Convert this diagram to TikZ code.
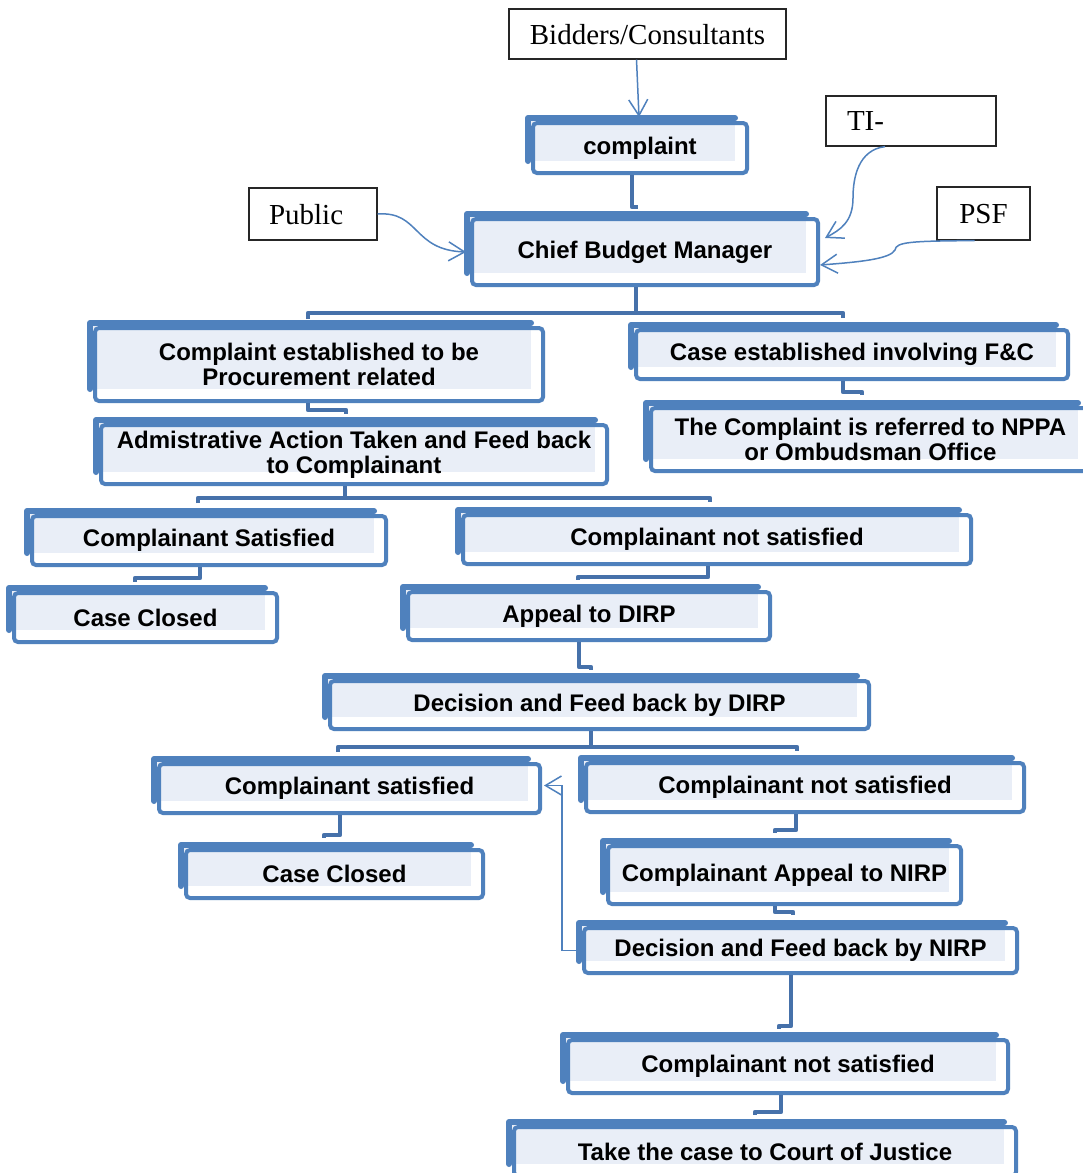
\documentclass[tikz,border=0pt]{standalone}
\usepackage{fontspec}
\setmainfont{Liberation Serif}
\newfontfamily\boxfont{Liberation Sans}
\usetikzlibrary{arrows.meta}
\definecolor{bblue}{HTML}{4F81BD}
\definecolor{cblue}{HTML}{4671AA}
\definecolor{bfill}{HTML}{E9EEF7}
\tikzset{
  backline/.style={bblue, line width=6pt, line cap=round, line join=round},
  frontbox/.style={draw=bblue, line width=4pt, rounded corners=4pt, inner sep=0pt, align=center,
    font=\boxfont\bfseries\fontsize{24}{25}\selectfont},
  conn/.style={cblue, line width=4.5pt, line join=round},
  arr/.style={bblue, line width=1.5pt, -{Straight Barb[length=16pt,width=19pt,line width=1.5pt]}},
  plain/.style={draw=black!85, line width=1.2pt, inner sep=0pt, text depth=0pt, font=\fontsize{29}{30}\selectfont}
}
\newcommand\mybox[6]{%
  \pgfmathsetmacro\bxr{#4-12}%
  \pgfmathsetmacro\bxb{#5-12}%
  \pgfmathsetmacro\bxw{#4-#2-5}%
  \pgfmathsetmacro\bxh{#5-#3-5}%
  \pgfmathsetmacro\bxcx{(#2+5+#4)/2}%
  \pgfmathsetmacro\bxcy{(#3+5+#5)/2}%
  \fill[bfill] (#2,#3) rectangle (\bxr,\bxb);
  \draw[backline] (#2,\bxb) -- (#2,#3) -- (\bxr,#3);
  \node[frontbox, minimum width=\bxw pt, minimum height=\bxh pt] (#1) at (\bxcx,\bxcy) {#6};
}
\begin{document}
\begin{tikzpicture}[x=1pt,y=-1pt]
\useasboundingbox[fill=white] (0,0) rectangle (1082,1173);

% plain source boxes
\node[plain, minimum width=277pt, minimum height=50pt] (bidders) at (647.5,34) {Bidders/Consultants};
\node[plain, minimum width=170pt, minimum height=50pt, text width=128pt, align=left] (ti) at (911,121) {TI-};
\node[plain, minimum width=128pt, minimum height=52pt, text width=88pt, align=left] (public) at (313,214) {Public};
\node[plain, minimum width=93pt, minimum height=53pt] (psf) at (983.5,213.5) {PSF};

% blue boxes
\mybox{complaint}{528}{118}{747}{173}{complaint}
\mybox{cbm}{467}{214}{818}{285}{Chief Budget Manager}
\mybox{proc}{90}{323}{543}{401}{Complaint established to be\\Procurement related}
\mybox{fc}{631}{325}{1068}{379}{Case established involving F\&C}
\mybox{nppa}{646}{403}{1090}{471}{The Complaint is referred to NPPA\\or Ombudsman Office}
\mybox{admin}{96}{420}{607}{484}{Admistrative Action Taken and Feed back\\to Complainant}
\mybox{csa}{27}{511}{386}{565}{Complainant Satisfied}
\mybox{cnsa}{458}{510}{971}{564}{Complainant not satisfied}
\mybox{cca}{9}{588}{277}{642}{Case Closed}
\mybox{dirp}{403}{587}{770}{640}{Appeal to DIRP}
\mybox{ddirp}{325}{676}{869}{729}{Decision and Feed back by DIRP}
\mybox{csb}{154}{759}{540}{813}{Complainant satisfied}
\mybox{cnsb}{581}{758}{1024}{812}{Complainant not satisfied}
\mybox{ccb}{181}{845}{483}{898}{Case Closed}
\mybox{nirp}{603}{841}{961}{904}{Complainant Appeal to NIRP}
\mybox{dnirp}{579}{923}{1017}{973}{Decision and Feed back by NIRP}
\mybox{cnsc}{563}{1035}{1008}{1093}{Complainant not satisfied}
\mybox{court}{509}{1122}{1016}{1176}{Take the case to Court of Justice}

% elbow connectors
\draw[conn] (632,0 |- complaint.south) -- (632,207) -- (638,207);
\draw[conn] (636,0 |- cbm.south) -- (636,313);
\draw[conn] (308,319) -- (308,313) -- (843,313) -- (843,318);
\draw[conn] (308,0 |- proc.south) -- (308,410) -- (346,410) -- (346,414);
\draw[conn] (843,0 |- fc.south) -- (843,392) -- (862,392) -- (862,395);
\draw[conn] (345,0 |- admin.south) -- (345,498);
\draw[conn] (198,503) -- (198,498) -- (710,498) -- (710,502);
\draw[conn] (200,0 |- csa.south) -- (200,578) -- (135,578) -- (135,582);
\draw[conn] (708,0 |- cnsa.south) -- (708,577) -- (578,577) -- (578,580);
\draw[conn] (579,0 |- dirp.south) -- (579,667) -- (591,667) -- (591,670);
\draw[conn] (591,0 |- ddirp.south) -- (591,747);
\draw[conn] (338,752) -- (338,747) -- (797,747) -- (797,751);
\draw[conn] (340,0 |- csb.south) -- (340,835) -- (324,835) -- (324,838);
\draw[conn] (796,0 |- cnsb.south) -- (796,830) -- (775,830) -- (775,833);
\draw[conn] (775,0 |- nirp.south) -- (775,912) -- (793,912) -- (793,915);
\draw[conn] (791,0 |- dnirp.south) -- (791,1026) -- (779,1026) -- (779,1029);
\draw[conn] (781,0 |- cnsc.south) -- (781,1112) -- (755,1112) -- (755,1115);

% thin arrows
\draw[arr] ([xshift=-11pt]bidders.south) -- ([xshift=-1pt,yshift=4pt]complaint.north);
\draw[arr] (public.east) .. controls (420,211) and (412,250) .. ([xshift=-4pt]cbm.west);
\draw[arr] ([xshift=-26pt]ti.south) .. controls (858,150) and (853,178) .. (853,198)
  .. controls (853,222) and (840,230) .. ([xshift=5pt,yshift=14pt]cbm.east);
\draw[arr] ([xshift=-9pt]psf.south) .. controls (910,241) and (896,242) .. (895,250)
  .. controls (890,259) and (860,262) .. ([yshift=-13pt]cbm.east);
\draw[arr] ([xshift=-3pt]dnirp.west) -- (562,0 |- dnirp.west) |- ([xshift=2pt,yshift=3pt]csb.east);
\end{tikzpicture}
\end{document}
